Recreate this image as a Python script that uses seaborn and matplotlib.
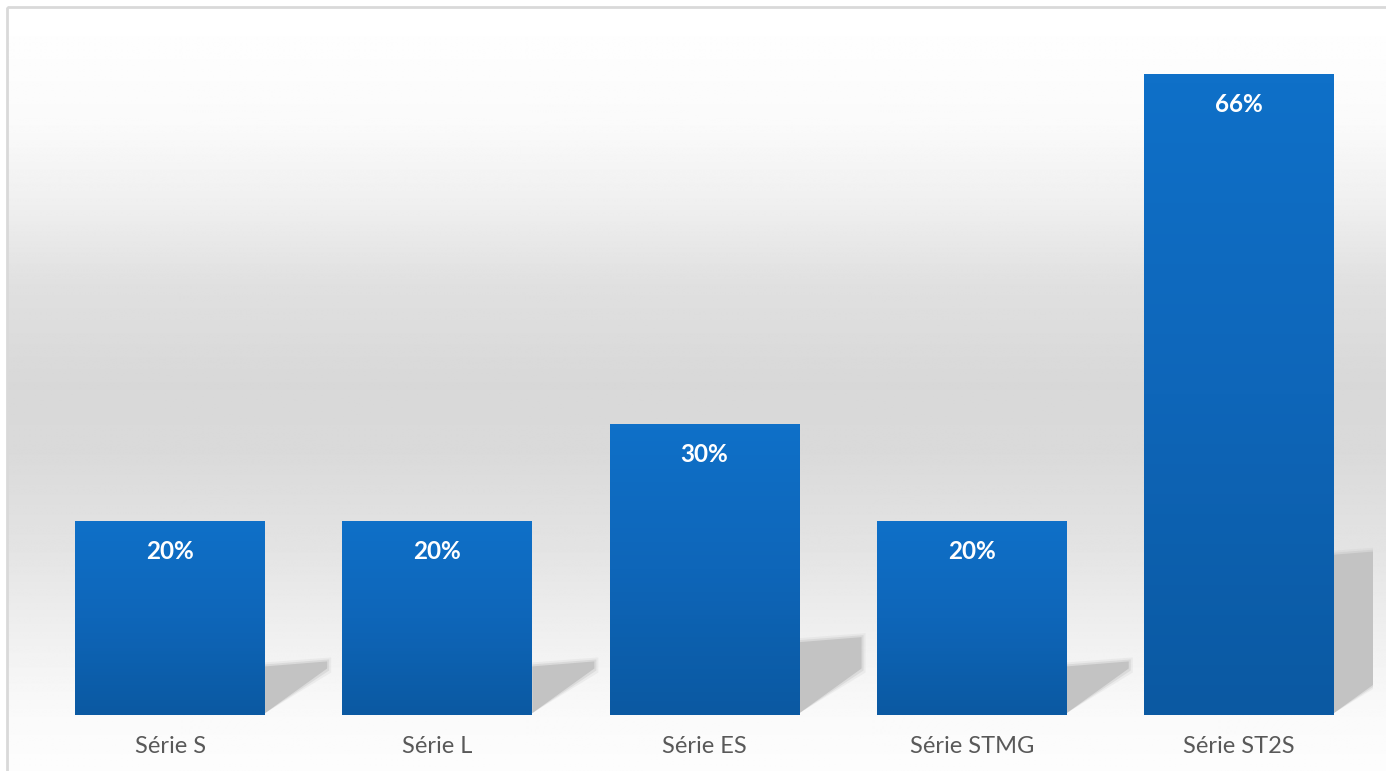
import matplotlib
matplotlib.use("Agg")
import matplotlib.pyplot as plt
import numpy as np
import pandas as pd
import seaborn as sns
from matplotlib.colors import LinearSegmentedColormap
from matplotlib.patches import Polygon, Rectangle

categories = ["Série S", "Série L", "Série ES", "Série STMG", "Série ST2S"]
values = [20, 20, 30, 20, 66]
labels = ["20%", "20%", "30%", "20%", "66%"]

df = pd.DataFrame({"serie": categories, "pct": values})

sns.set_theme(style="white")
plt.rcParams["font.family"] = ["Lato", "DejaVu Sans"]

W, H = 1386, 771
fig = plt.figure(figsize=(W / 100, H / 100), dpi=100)

# background: vertical grey gradient inside a thin frame
bg = fig.add_axes([0, 0, 1, 1], zorder=-2)
bg.set_xlim(0, W)
bg.set_ylim(H, 0)
bg.axis("off")
ys = np.arange(H)
stops_y = [7, 120, 200, 280, 380, 450, 550, 650, 715, 771]
stops_v = [255, 250, 239, 224, 216, 218, 228, 242, 250, 253]
col = np.interp(ys, stops_y, stops_v) / 255.0
grad = np.repeat(col[:, None], 4, axis=1)
bg.imshow(grad, cmap="gray", vmin=0, vmax=1, extent=[7, W + 5, H, 7],
          aspect="auto", interpolation="bilinear")
bg.add_patch(Rectangle((6.5, 6.5), W + 10, H + 10, fill=False,
                       edgecolor="#d9d9d9", linewidth=2))

ax = fig.add_axes([36.5 / W, 56 / H, 1336 / W, (715 - 35) / H])
ax.patch.set_alpha(0)
sns.barplot(data=df, x="serie", y="pct", color="#0e66b8", width=0.711,
            saturation=1, linewidth=0, edgecolor="none", ax=ax, zorder=3)
ax.set_xlim(-0.5, 4.5)
ax.set_ylim(0, 70)

px_x = 1 / 267.0      # data units per pixel, x
px_y = 70 / 680.0     # data units per pixel, y

bar_cmap = LinearSegmentedColormap.from_list("bar", ["#0b59a2", "#0e66b9", "#0f70c8"])
for p, lab in zip(ax.patches, labels):
    x0, w, h = p.get_x(), p.get_width(), p.get_height()
    r = x0 + w
    # floor shadow to the right of each bar
    s = 0.25 * h
    dx = 62 * px_x
    for grow, a in [(4, 0.2), (2, 0.4), (0, 1.0)]:
        g = grow * px_y
        poly = Polygon([(r, 0.2), (r, s + g), (r + dx + grow * px_x, s + 5 * px_y + g),
                        (r + dx + grow * px_x, 0.75 * 62 * px_y - g)],
                       closed=True, facecolor="#c3c3c3", edgecolor="none",
                       alpha=a, zorder=1)
        ax.add_patch(poly)
    # vertical gradient on the bar
    im = ax.imshow(np.linspace(0, 1, 64)[:, None], cmap=bar_cmap, origin="lower",
                   extent=[x0, r, 0, h], aspect="auto", zorder=4)
    im.set_clip_path(p)
    ax.annotate(lab, (x0 + w / 2, h), xytext=(0, -22), textcoords="offset points",
                ha="center", va="center", color="white", fontsize=17.5,
                fontweight="bold", zorder=5)

ax.set_xlim(-0.5, 4.5)
ax.set_ylim(0, 70)
ax.set_xlabel("")
ax.set_ylabel("")
ax.set_yticks([])
ax.tick_params(axis="x", length=0, pad=15, labelsize=17, labelcolor="#595959")
sns.despine(ax=ax, left=True, bottom=True)

fig.savefig("out.png", dpi=100)
